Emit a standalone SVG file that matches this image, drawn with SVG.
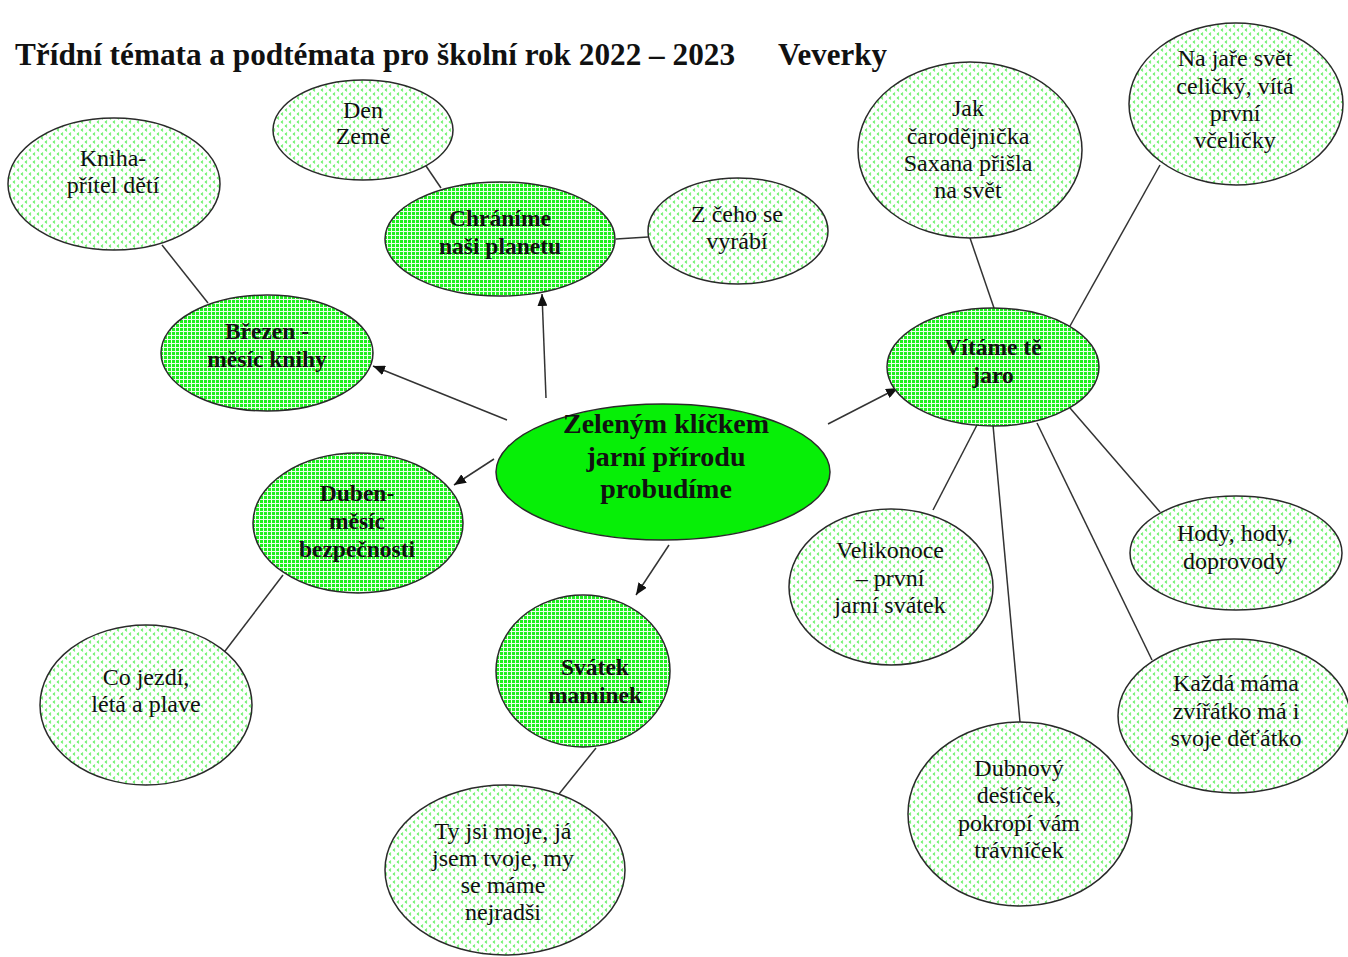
<svg xmlns="http://www.w3.org/2000/svg" width="1348" height="957" viewBox="0 0 1348 957" font-family="'Liberation Serif', 'Times New Roman', serif">
<style>
  .topic { stroke: #2a2a2a; stroke-width: 1.5; fill: url(#grid); }
  .sub { stroke: #2a2a2a; stroke-width: 1.5; fill: url(#dots); }
  .center { stroke: #2a2a2a; stroke-width: 1.5; fill: #07ef07; }
  .t { font-family: 'Liberation Serif', 'Times New Roman', serif; fill: #111; text-anchor: middle; }
  .tb { font-size: 23.5px; font-weight: bold; }
  .tr { font-size: 24px; }
  .tc { font-size: 28px; font-weight: bold; }
  .title { font-family: 'Liberation Serif', 'Times New Roman', serif; font-size: 31px; font-weight: bold; fill: #111; }
  .conn line { stroke: #333; stroke-width: 1.5; }
  .conn .arr { marker-end: url(#ah); }
</style>
<defs>
  <pattern id="grid" width="4" height="4" patternUnits="userSpaceOnUse">
    <rect width="4" height="4" fill="#eaffea"/>
    <rect width="3" height="3" fill="#1ef01e"/>
  </pattern>
  <pattern id="dots" width="8" height="8" patternUnits="userSpaceOnUse">
    <rect width="8" height="8" fill="#ffffff"/>
    <path d="M3 0.6 L1.4 2 L3 3.4" stroke="#5ff05f" stroke-width="1.2" fill="none"/>
    <path d="M7 4.6 L5.4 6 L7 7.4" stroke="#5ff05f" stroke-width="1.2" fill="none"/>
  </pattern>
  <marker id="ah" viewBox="0 0 12 10" refX="12" refY="5" markerWidth="12" markerHeight="10" markerUnits="userSpaceOnUse" orient="auto">
    <path d="M0 0 L12 5 L0 10 Z" fill="#111"/>
  </marker>
</defs>

<text class="title" x="15" y="65" textLength="720" lengthAdjust="spacingAndGlyphs">Třídní témata a podtémata pro školní rok 2022 – 2023</text>
<text class="title" x="778" y="65" textLength="109" lengthAdjust="spacingAndGlyphs">Veverky</text>

<g id="connectors" class="conn">
  <line class="arr" x1="507" y1="420" x2="373" y2="366"/>
  <line class="arr" x1="546" y1="398" x2="542" y2="294"/>
  <line class="arr" x1="828" y1="424" x2="898" y2="388"/>
  <line class="arr" x1="494" y1="459" x2="454" y2="485"/>
  <line class="arr" x1="669" y1="545" x2="636" y2="595"/>
  <line x1="424" y1="163" x2="441" y2="188"/>
  <line x1="616" y1="239" x2="648" y2="237"/>
  <line x1="162" y1="245" x2="208" y2="303"/>
  <line x1="283" y1="575" x2="222" y2="655"/>
  <line x1="596" y1="748" x2="559" y2="794"/>
  <line x1="970" y1="238" x2="994" y2="308"/>
  <line x1="1160" y1="165" x2="1070" y2="326"/>
  <line x1="978" y1="423" x2="933" y2="510"/>
  <line x1="993" y1="425" x2="1020" y2="722"/>
  <line x1="1037" y1="423" x2="1152" y2="660"/>
  <line x1="1070" y1="408" x2="1160" y2="512"/>
</g>

<g id="center">
  <ellipse class="center" cx="663" cy="472" rx="167" ry="68"/>
  <text class="t tc" x="666" y="433">Zeleným klíčkem</text>
  <text class="t tc" x="666" y="466">jarní přírodu</text>
  <text class="t tc" x="666" y="498">probudíme</text>
</g>

<g id="chranime">
  <ellipse class="topic" cx="500" cy="239" rx="115" ry="57"/>
  <text class="t tb" x="500" y="226">Chráníme</text>
  <text class="t tb" x="500" y="254">naši planetu</text>
</g>

<g id="brezen">
  <ellipse class="topic" cx="267" cy="353" rx="106" ry="58"/>
  <text class="t tb" x="267" y="339">Březen -</text>
  <text class="t tb" x="267" y="367">měsíc knihy</text>
</g>

<g id="duben">
  <ellipse class="topic" cx="358" cy="523" rx="105" ry="70"/>
  <text class="t tb" x="357" y="501">Duben-</text>
  <text class="t tb" x="357" y="529">měsíc</text>
  <text class="t tb" x="357" y="557">bezpečnosti</text>
</g>

<g id="svatek">
  <ellipse class="topic" cx="583" cy="671" rx="87" ry="76"/>
  <text class="t tb" x="595" y="675">Svátek</text>
  <text class="t tb" x="595" y="703">maminek</text>
</g>

<g id="vitame">
  <ellipse class="topic" cx="993" cy="367" rx="106" ry="59"/>
  <text class="t tb" x="993" y="355">Vítáme tě</text>
  <text class="t tb" x="993" y="383">jaro</text>
</g>

<g id="den-zeme">
  <ellipse class="sub" cx="363" cy="130" rx="90" ry="50"/>
  <text class="t tr" x="363" y="118">Den</text>
  <text class="t tr" x="363" y="144">Země</text>
</g>

<g id="kniha">
  <ellipse class="sub" cx="114" cy="184" rx="106" ry="66"/>
  <text class="t tr" x="113" y="166">Kniha-</text>
  <text class="t tr" x="113" y="193">přítel dětí</text>
</g>

<g id="z-ceho">
  <ellipse class="sub" cx="738" cy="231" rx="90" ry="53"/>
  <text class="t tr" x="737" y="222">Z čeho se</text>
  <text class="t tr" x="737" y="249">vyrábí</text>
</g>

<g id="jak">
  <ellipse class="sub" cx="970" cy="150" rx="112" ry="88"/>
  <text class="t tr" x="968" y="116">Jak</text>
  <text class="t tr" x="968" y="144">čarodějnička</text>
  <text class="t tr" x="968" y="171">Saxana přišla</text>
  <text class="t tr" x="968" y="198">na svět</text>
</g>

<g id="na-jare">
  <ellipse class="sub" cx="1236" cy="104" rx="107" ry="81"/>
  <text class="t tr" x="1235" y="66">Na jaře svět</text>
  <text class="t tr" x="1235" y="94">celičký, vítá</text>
  <text class="t tr" x="1235" y="121">první</text>
  <text class="t tr" x="1235" y="148">včeličky</text>
</g>

<g id="velikonoce">
  <ellipse class="sub" cx="891" cy="587" rx="102" ry="78"/>
  <text class="t tr" x="890" y="558">Velikonoce</text>
  <text class="t tr" x="890" y="586">– první</text>
  <text class="t tr" x="890" y="613">jarní svátek</text>
</g>

<g id="hody">
  <ellipse class="sub" cx="1236" cy="553" rx="106" ry="57"/>
  <text class="t tr" x="1235" y="541">Hody, hody,</text>
  <text class="t tr" x="1235" y="569">doprovody</text>
</g>

<g id="kazda-mama">
  <ellipse class="sub" cx="1234" cy="716" rx="116" ry="77"/>
  <text class="t tr" x="1236" y="691">Každá máma</text>
  <text class="t tr" x="1236" y="719">zvířátko má i</text>
  <text class="t tr" x="1236" y="746">svoje děťátko</text>
</g>

<g id="dubnovy">
  <ellipse class="sub" cx="1020" cy="814" rx="112" ry="92"/>
  <text class="t tr" x="1019" y="776">Dubnový</text>
  <text class="t tr" x="1019" y="803">deštíček,</text>
  <text class="t tr" x="1019" y="831">pokropí vám</text>
  <text class="t tr" x="1019" y="858">trávníček</text>
</g>

<g id="co-jezdi">
  <ellipse class="sub" cx="146" cy="705" rx="106" ry="80"/>
  <text class="t tr" x="146" y="685">Co jezdí,</text>
  <text class="t tr" x="146" y="712">létá a plave</text>
</g>

<g id="ty-jsi">
  <ellipse class="sub" cx="505" cy="870" rx="120" ry="85"/>
  <text class="t tr" x="503" y="839">Ty jsi moje, já</text>
  <text class="t tr" x="503" y="866">jsem tvoje, my</text>
  <text class="t tr" x="503" y="893">se máme</text>
  <text class="t tr" x="503" y="920">nejradši</text>
</g>
</svg>
